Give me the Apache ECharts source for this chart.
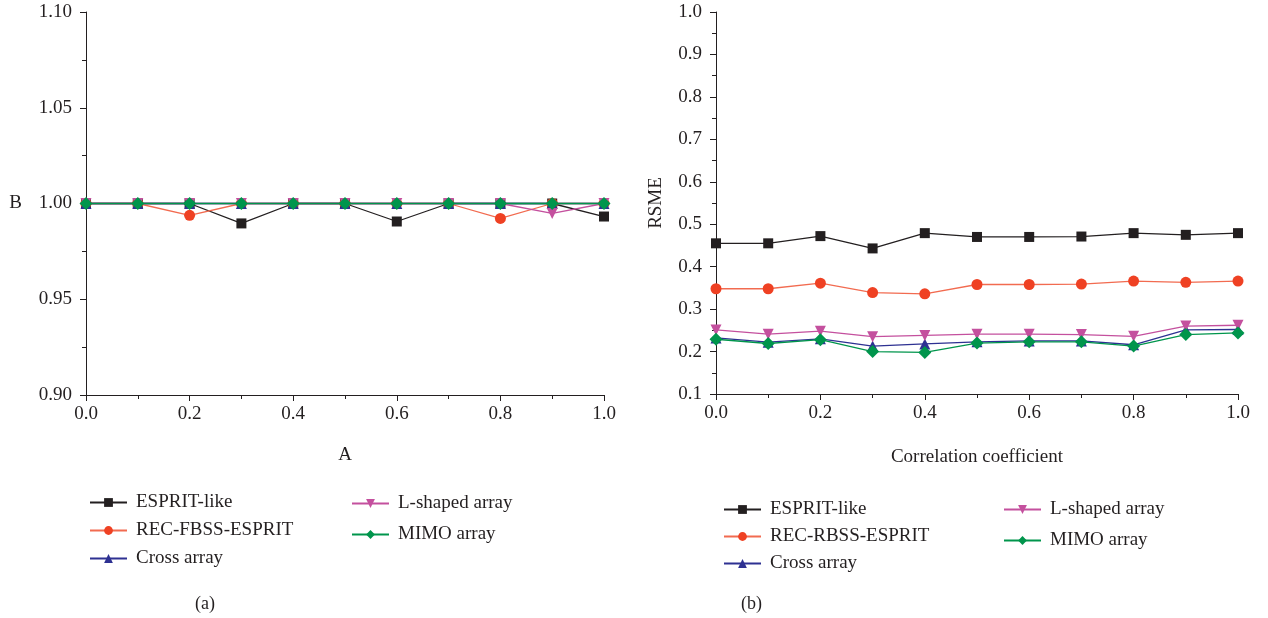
<!DOCTYPE html>
<html>
<head>
<meta charset="utf-8">
<script src="https://cdn.jsdelivr.net/npm/echarts@6/dist/echarts.min.js"></script>
<style>
  html, body { margin: 0; padding: 0; background: #fff; }
  #chart { width: 1268px; height: 618px; }
</style>
</head>
<body>
<div id="chart"></div>
<script>
// x values (shared by both panels)
const xValues = [0, 0.1, 0.2, 0.3, 0.4, 0.5, 0.6, 0.7, 0.8, 0.9, 1.0];

// panel (a)
const aEsprit = [1, 1, 1, 0.9896, 1, 1, 0.9906, 1, 1, 1, 0.9932];
const aRec    = [1, 1, 0.9938, 1, 1, 1, 1, 1, 0.9922, 1, 1];
const aCross  = [1, 1, 1, 1, 1, 1, 1, 1, 1, 1, 1];
const aLshape = [1, 1, 1, 1, 1, 1, 1, 1, 1, 0.9948, 1];
const aMimo   = [1, 1, 1, 1, 1, 1, 1, 1, 1, 1, 1];

// panel (b)
const bEsprit = [0.455, 0.455, 0.472, 0.443, 0.479, 0.470, 0.470, 0.471, 0.479, 0.475, 0.479];
const bRec    = [0.348, 0.348, 0.361, 0.339, 0.336, 0.358, 0.358, 0.359, 0.366, 0.363, 0.366];
const bCross  = [0.232, 0.222, 0.230, 0.213, 0.218, 0.223, 0.225, 0.225, 0.216, 0.251, 0.252];
const bLshape = [0.251, 0.241, 0.248, 0.235, 0.238, 0.241, 0.241, 0.240, 0.236, 0.260, 0.262];
const bMimo   = [0.229, 0.219, 0.228, 0.200, 0.198, 0.220, 0.223, 0.223, 0.213, 0.240, 0.244];

const namesA = ["ESPRIT-like", "REC-FBSS-ESPRIT", "Cross array", "L-shaped array", "MIMO array"];
const namesB = ["ESPRIT-like", "REC-RBSS-ESPRIT", "Cross array", "L-shaped array", "MIMO array"];

const FONT = "Liberation Serif";
const FS = 19;
const styles = [
  { line: "#231f20", mark: "#231f20", symbol: "rect", size: 10, rotate: 0 },
  { line: "#f26b50", mark: "#ef4123", symbol: "circle", size: 11, rotate: 0 },
  { line: "#2e3192", mark: "#2e3192", symbol: "triangle", size: 11, rotate: 0 },
  { line: "#c4509e", mark: "#c4509e", symbol: "triangle", size: 11, rotate: 180 },
  { line: "#00954c", mark: "#00954c", symbol: "diamond", size: 13, rotate: 0 }
];

function pair(ys) {
  return xValues.map((x, i) => [x, ys[i]]);
}

function makeSeries(names, data, idx) {
  return names.map((n, i) => ({
    name: n,
    type: "line",
    xAxisIndex: idx,
    yAxisIndex: idx,
    symbol: styles[i].symbol,
    symbolSize: styles[i].size,
    symbolRotate: styles[i].rotate,
    lineStyle: { color: styles[i].line, width: 1.3 },
    itemStyle: { color: styles[i].mark },
    emphasis: { disabled: true },
    data: pair(data[i])
  }));
}

function xAxis(idx, name, gap) {
  return {
    type: "value",
    gridIndex: idx,
    min: 0, max: 1, interval: 0.2,
    name: name, nameLocation: "middle", nameGap: gap,
    nameTextStyle: { fontFamily: FONT, fontSize: FS, color: "#231f20" },
    axisLine: { lineStyle: { color: "#231f20", width: 1 } },
    axisTick: { length: 6, lineStyle: { color: "#231f20" } },
    minorTick: { show: true, splitNumber: 2, length: 4, lineStyle: { color: "#231f20" } },
    axisLabel: { fontFamily: FONT, fontSize: FS, color: "#231f20", margin: 10,
      formatter: v => v.toFixed(1) },
    splitLine: { show: false }
  };
}

function yAxis(idx, min, max, interval, digits, name, gap, rotate) {
  return {
    type: "value",
    gridIndex: idx,
    min: min, max: max, interval: interval,
    name: name, nameLocation: "middle", nameGap: gap, nameRotate: rotate,
    nameTextStyle: { fontFamily: FONT, fontSize: FS, color: "#231f20" },
    axisLine: { show: true, lineStyle: { color: "#231f20", width: 1 } },
    axisTick: { show: true, length: 6, lineStyle: { color: "#231f20" } },
    minorTick: { show: true, splitNumber: 2, length: 4, lineStyle: { color: "#231f20" } },
    axisLabel: { fontFamily: FONT, fontSize: FS, color: "#231f20", margin: 14,
      formatter: v => v.toFixed(digits) },
    splitLine: { show: false }
  };
}

function legend(names, left, top, gap) {
  return {
    orient: "vertical",
    left: left, top: top,
    itemWidth: 37, itemHeight: 11, itemGap: gap,
    selectedMode: false,
    textStyle: { fontFamily: FONT, fontSize: FS, color: "#231f20", padding: [0, 0, 0, 4] },
    data: names
  };
}

const chart = echarts.init(document.getElementById("chart"));
chart.setOption({
  animation: false,
  backgroundColor: "#fff",
  title: [
    { text: "(a)", left: 190, top: 590, textStyle: { fontFamily: FONT, fontSize: 18, fontWeight: "normal", color: "#231f20" } },
    { text: "(b)", left: 736, top: 590, textStyle: { fontFamily: FONT, fontSize: 18, fontWeight: "normal", color: "#231f20" } }
  ],
  grid: [
    { left: 86, right: 664, top: 12, bottom: 223 },
    { left: 716, right: 30, top: 12, bottom: 224 }
  ],
  legend: [
    legend(namesA.slice(0, 3), 84, 488, 9),
    legend(namesA.slice(3), 346, 489, 12),
    legend(namesB.slice(0, 3), 718, 495, 8),
    legend(namesB.slice(3), 998, 495, 12)
  ],
  xAxis: [xAxis(0, "A", 51), xAxis(1, "Correlation coefficient", 54)],
  yAxis: [
    yAxis(0, 0.9, 1.1, 0.05, 2, "B", 64, 0),
    yAxis(1, 0.1, 1.0, 0.1, 1, "RSME", 50, 90)
  ],
  series: makeSeries(namesA, [aEsprit, aRec, aCross, aLshape, aMimo], 0)
    .concat(makeSeries(namesB, [bEsprit, bRec, bCross, bLshape, bMimo], 1))
});
</script>
</body>
</html>
